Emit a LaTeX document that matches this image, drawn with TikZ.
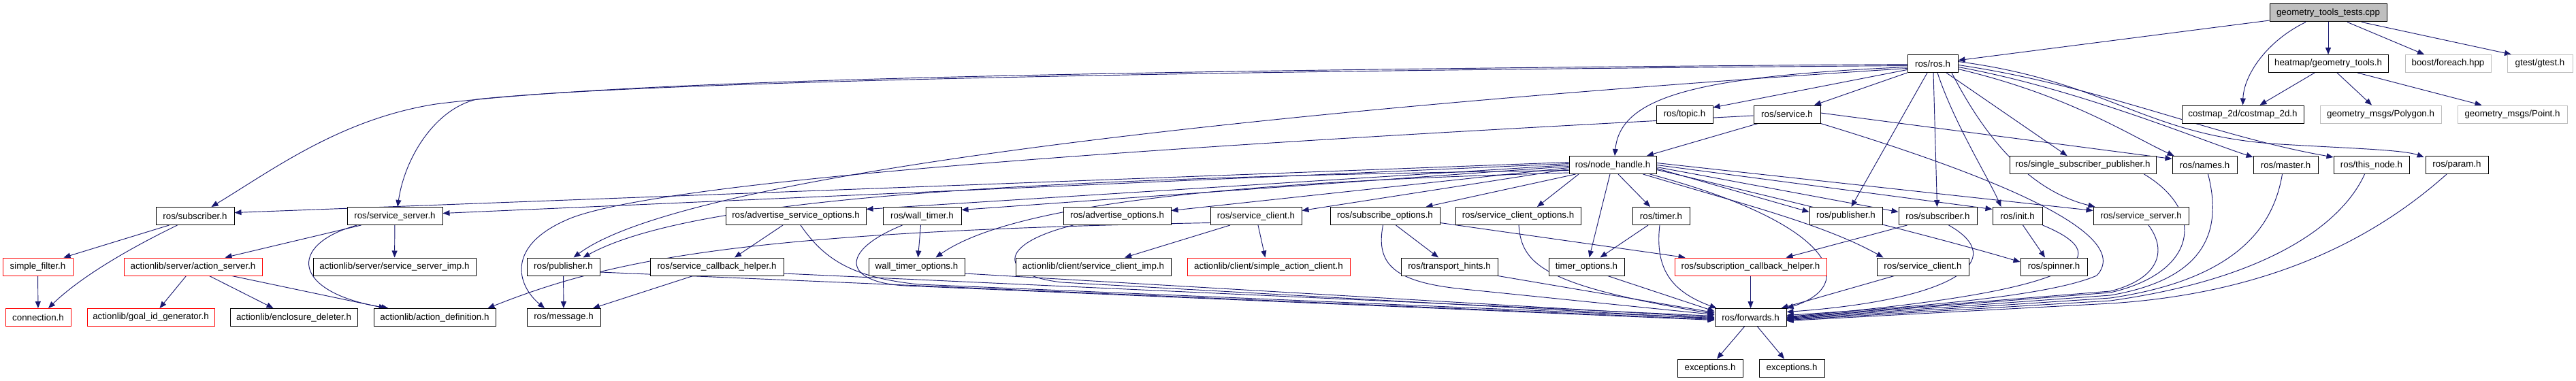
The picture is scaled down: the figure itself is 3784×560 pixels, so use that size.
\documentclass[tikz,border=0pt]{standalone}
\usepackage{fontspec}
\setmainfont{Liberation Sans}
\usetikzlibrary{arrows.meta,calc}
\definecolor{navy}{HTML}{191970}
\definecolor{lgray}{HTML}{BFBFBF}
\definecolor{fred}{HTML}{FF0000}
\pgfdeclarelayer{bg}
\pgfsetlayers{bg,main}
\tikzset{
 bx/.style={draw=black, line width=0.75pt, fill=white, inner sep=0pt, minimum height=19.5pt, font=\fontsize{10}{12}\selectfont, text=black},
 rbx/.style={bx, draw=fred},
 gbx/.style={bx, draw=lgray},
 rootbx/.style={bx, fill=lgray},
 dep/.style={draw=navy, line width=0.7pt, -{Triangle[length=7.5pt,width=6pt]}},
}
\newcommand{\dnode}[6]{\node[#6, minimum width={#3*0.75pt}] (#1) at (#2,#4) {#5};}
\begin{document}
\begin{tikzpicture}[x=0.75pt,y=-0.75pt]
\useasboundingbox (0,0) rectangle (3784,560);
% row 0
\dnode{T}{3420}{172}{19}{geometry\_tools\_tests.cpp}{rootbx}
% row 1
\dnode{ros}{2839}{74}{93.5}{ros/ros.h}{bx}
\dnode{heat}{3420}{176}{93.5}{heatmap/geometry\_tools.h}{bx}
\dnode{boost}{3596}{126}{93.5}{boost/foreach.hpp}{gbx}
\dnode{gtest}{3731}{96}{93.5}{gtest/gtest.h}{gbx}
% row 2
\dnode{topic}{2474.5}{83}{168}{ros/topic.h}{bx}
\dnode{service}{2625}{98}{168}{ros/service.h}{bx}
\dnode{costmap}{3294.5}{179}{168}{costmap\_2d/costmap\_2d.h}{bx}
\dnode{poly}{3497}{178}{168}{geometry\_msgs/Polygon.h}{gbx}
\dnode{point}{3690.5}{161}{168}{geometry\_msgs/Point.h}{gbx}
% row 3
\dnode{nh}{2369}{128}{242.5}{ros/node\_handle.h}{bx}
\dnode{ssp}{3059.5}{215}{242.5}{ros/single\_subscriber\_publisher.h}{bx}
\dnode{names}{3238.5}{95}{242.5}{ros/names.h}{bx}
\dnode{master}{3357.5}{95}{242.5}{ros/master.h}{bx}
\dnode{thisnode}{3483.5}{111}{242.5}{ros/this\_node.h}{bx}
\dnode{param}{3609}{92}{242.5}{ros/param.h}{bx}
% row 4
\dnode{subL}{286.5}{115}{317.5}{ros/subscriber.h}{bx}
\dnode{ssL}{580}{140}{317.5}{ros/service\_server.h}{bx}
\dnode{aso}{1169}{206}{317.5}{ros/advertise\_service\_options.h}{bx}
\dnode{wt}{1354.5}{115}{317.5}{ros/wall\_timer.h}{bx}
\dnode{ao}{1641}{158}{317.5}{ros/advertise\_options.h}{bx}
\dnode{scL}{1845}{134}{317.5}{ros/service\_client.h}{bx}
\dnode{so}{2034.5}{161}{317.5}{ros/subscribe\_options.h}{bx}
\dnode{sco}{2230}{184}{317.5}{ros/service\_client\_options.h}{bx}
\dnode{timer}{2440}{84}{317.5}{ros/timer.h}{bx}
\dnode{pubR}{2711.5}{107}{317.5}{ros/publisher.h}{bx}
\dnode{subR}{2846.5}{115}{317.5}{ros/subscriber.h}{bx}
\dnode{init}{2963.5}{73}{317.5}{ros/init.h}{bx}
\dnode{ssR}{3145}{140}{317.5}{ros/service\_server.h}{bx}
% row 5
\dnode{sf}{55.5}{103}{392}{simple\_filter.h}{rbx}
\dnode{as}{283.5}{203}{392}{actionlib/server/action\_server.h}{rbx}
\dnode{ssimp}{579.5}{239}{392}{actionlib/server/service\_server\_imp.h}{bx}
\dnode{pubL}{827.5}{107}{392}{ros/publisher.h}{bx}
\dnode{sch}{1053}{196}{392}{ros/service\_callback\_helper.h}{bx}
\dnode{wto}{1346.5}{141}{392}{wall\_timer\_options.h}{bx}
\dnode{scimp}{1606}{228}{392}{actionlib/client/service\_client\_imp.h}{bx}
\dnode{sac}{1863.5}{239}{392}{actionlib/client/simple\_action\_client.h}{rbx}
\dnode{th}{2129}{142}{392}{ros/transport\_hints.h}{bx}
\dnode{to}{2330.5}{111}{392}{timer\_options.h}{bx}
\dnode{subcb}{2571.5}{223}{392}{ros/subscription\_callback\_helper.h}{rbx}
\dnode{scR}{2824.5}{135}{392}{ros/service\_client.h}{bx}
\dnode{spin}{3017}{98}{392}{ros/spinner.h}{bx}
% row 6
\dnode{conn}{56}{96}{466.5}{connection.h}{rbx}
\dnode{goal}{221.5}{187}{466.5}{actionlib/goal\_id\_generator.h}{rbx}
\dnode{encl}{431.5}{187}{466.5}{actionlib/enclosure\_deleter.h}{bx}
\dnode{ad}{638.5}{179}{466.5}{actionlib/action\_definition.h}{bx}
\dnode{msg}{828}{108}{466.5}{ros/message.h}{bx}
\dnode{fwd}{2571.5}{105}{466.5}{ros/forwards.h}{bx}
% row 7
\dnode{exca}{2512}{96}{541}{exceptions.h}{bx}
\dnode{excb}{2632}{96}{541}{exceptions.h}{bx}

\begin{pgfonlayer}{bg}
% root
\draw[dep] (T) -- (ros);
\draw[dep] ($(T.south)+(-33,0)$) .. controls (3330,60) and (3296,110) .. (costmap.north);
\draw[dep] (T) -- (heat);
\draw[dep] ($(T.south)+(28,0)$) -- ($(boost.north)+(-35,0)$);
\draw[dep] ($(T.south)+(49,0)$) -- ($(gtest.north)+(-42,0)$);
% heatmap
\draw[dep] ($(heat.south)+(-20,0)$) -- ($(costmap.north)+(25,0)$);
\draw[dep] ($(heat.south)+(13,0)$) -- ($(poly.north)+(-13,0)$);
\draw[dep] ($(heat.south)+(43,0)$) -- ($(point.north)+(-45,0)$);
% ros.h
\draw[dep] ($(ros.west)+(0,1)$) .. controls (1500,104) and (900,120) .. (640,153) .. controls (500,175) and (400,250) .. ($(subL.north)+(24,0)$);
\draw[dep] ($(ros.west)+(0,3)$) .. controls (1500,106) and (900,125) .. (700,146) .. controls (640,160) and (595,230) .. ($(ssL.north)+(4,0)$);
\draw[dep] ($(ros.west)+(0,7)$) .. controls (1800,165) and (1000,260) .. ($(pubL.north)+(15,0)$);
\draw[dep] ($(ros.west)+(0,5)$) .. controls (2500,112) and (2380,140) .. ($(nh.north)+(3,0)$);
\draw[dep] ($(ros.west)+(0,9)$) -- ($(topic.east)+(0,-10)$);
\draw[dep] (ros.south west) -- ($(service.north)+(40,0)$);
\draw[dep] ($(ros.south)+(-8,0)$) -- ($(pubR.north)+(8,0)$);
\draw[dep] ($(ros.south)+(1,0)$) -- ($(subR.north)+(-1,0)$);
\draw[dep] ($(ros.south)+(7,0)$) .. controls (2870,180) and (2920,260) .. ($(init.north)+(-24,0)$);
\draw[dep] ($(ros.south)+(20,0)$) -- ($(ssp.north)+(-23,0)$);
\draw[dep] ($(ros.south)+(28,0)$) .. controls (2930,230) and (3000,285) .. ($(ssR.north west)+(3,0)$);
\draw[dep] ($(ros.east)+(0,8)$) .. controls (3040,140) and (3130,200) .. ($(names.north west)+(3,0)$);
\draw[dep] ($(ros.east)+(0,5)$) .. controls (3050,130) and (3230,205) .. ($(master.north west)+(0,2)$);
\draw[dep] ($(ros.east)+(0,2)$) .. controls (3080,125) and (3250,200) .. ($(thisnode.north west)+(0,2)$);
\draw[dep] ($(ros.east)+(0,-3)$) .. controls (3100,120) and (3150,200) .. (3350,212) .. controls (3450,218) and (3530,220) .. ($(param.north west)+(-2,2)$);
% service.h
\draw[dep] ($(service.south west)+(7,0)$) -- ($(nh.north)+(50,0)$);
\draw[dep] ($(service.east)+(0,-2)$) -- ($(names.west)+(0,-9)$);
\draw[dep] ($(service.west)+(0,2)$) .. controls (1800,210) and (1000,260) .. (840,320) .. controls (740,360) and (760,420) .. ($(msg.north)+(-28,0)$);
\draw[dep] (service.south east) .. controls (2900,250) and (3140,340) .. (3080,405) .. controls (3000,440) and (2750,455) .. ($(fwd.east)+(0,-3)$);
% node_handle.h
\draw[dep] ($(nh.west)+(0,-4)$) -- ($(subL.east)+(0,-5)$);
\draw[dep] ($(nh.west)+(0,-2)$) -- ($(ssL.east)+(0,-4)$);
\draw[dep] ($(nh.west)+(0,0)$) -- ($(aso.east)+(0,-10)$);
\draw[dep] ($(nh.west)+(0,2)$) -- ($(wt.east)+(0,-9)$);
\draw[dep] ($(nh.west)+(0,4)$) -- ($(ao.east)+(0,-8)$);
\draw[dep] ($(nh.west)+(0,6)$) -- ($(scL.east)+(0,-8)$);
\draw[dep] ($(nh.west)+(0,8)$) .. controls (1400,262) and (1000,300) .. ($(pubL.north)+(29,0)$);
\draw[dep] ($(nh.south west)+(0,-2)$) .. controls (1900,265) and (1500,290) .. ($(wto.north)+(28,0)$);
\draw[dep] ($(nh.south west)+(10,0)$) -- ($(so.north)+(60,0)$);
\draw[dep] ($(nh.south)+(-50,0)$) -- ($(sco.north)+(28,0)$);
\draw[dep] ($(nh.south)+(8,0)$) -- ($(timer.north)+(-16,0)$);
\draw[dep] ($(nh.south)+(-4,0)$) -- ($(to.north)+(4,0)$);
\draw[dep] ($(nh.east)+(0,5)$) -- ($(pubR.west)+(0,-6)$);
\draw[dep] ($(nh.east)+(0,3)$) -- ($(subR.west)+(0,-6)$);
\draw[dep] ($(nh.east)+(0,0)$) -- ($(init.west)+(0,-10)$);
\draw[dep] ($(nh.east)+(0,-3)$) -- ($(ssR.west)+(0,-8)$);
\draw[dep] ($(nh.south east)+(-20,0)$) .. controls (2560,300) and (2680,330) .. ($(scR.north west)+(10,0)$);
\draw[dep] ($(nh.east)+(0,7)$) .. controls (2650,300) and (2850,350) .. ($(spin.west)+(0,-7)$);
\draw[dep] ($(nh.south east)+(-10,0)$) .. controls (2700,330) and (2730,420) .. (fwd.north east);
% left part
\draw[dep] ($(subL.south west)+(20,0)$) -- ($(sf.north)+(38,0)$);
\draw[dep] ($(subL.south west)+(32,0)$) .. controls (170,375) and (110,415) .. ($(conn.north)+(15,0)$);
\draw[dep] (sf) -- (conn);
\draw[dep] ($(ssL.south west)+(21,0)$) -- ($(as.north)+(47,0)$);
\draw[dep] (ssL) -- (ssimp);
\draw[dep] ($(ssL.south west)+(15,0)$) .. controls (420,360) and (430,430) .. ($(ad.north west)+(22,0)$);
\draw[dep] ($(as.south)+(-10,0)$) -- ($(goal.north)+(13,0)$);
\draw[dep] ($(as.south)+(24,0)$) -- ($(encl.north)+(-30,0)$);
\draw[dep] ($(as.south)+(57,0)$) -- ($(ad.north west)+(18,0)$);
% middle
\draw[dep] ($(aso.south)+(-19,0)$) -- ($(sch.north)+(26,0)$);
\draw[dep] ($(aso.south)+(7,0)$) .. controls (1210,380) and (1250,408) .. (1350,418) -- ($(fwd.west)+(0,1)$);
\draw[dep] ($(sch.south)+(-35,0)$) -- ($(msg.north)+(43,0)$);
\draw[dep] ($(sch.east)+(0,10)$) -- ($(fwd.west)+(0,-2)$);
\draw[dep] (pubL) -- (msg);
\draw[dep] ($(pubL.east)+(0,8)$) -- ($(fwd.west)+(0,3)$);
\draw[dep] ($(wt.south)+(-2,0)$) -- ($(wto.north)+(2,0)$);
\draw[dep] ($(wt.south west)+(29,0)$) .. controls (1230,370) and (1240,415) .. (1330,420) -- ($(fwd.west)+(0,4)$);
\draw[dep] ($(ao.south west)+(15,0)$) .. controls (1460,360) and (1470,405) .. (1560,415) -- ($(fwd.west)+(0,2)$);
\draw[dep] ($(wto.east)+(0,10)$) -- ($(fwd.west)+(0,0)$);
\draw[dep] ($(scL.south)+(-38,0)$) -- ($(scimp.north)+(46,0)$);
\draw[dep] ($(scL.south)+(3,0)$) -- ($(sac.north)+(-5,0)$);
\draw[dep] ($(scL.west)+(0,10)$) .. controls (1100,340) and (900,380) .. ($(ad.north east)+(-12,0)$);
\draw[dep] ($(so.south)+(16,0)$) -- ($(th.north)+(-16,0)$);
\draw[dep] ($(so.east)+(0,10)$) -- ($(subcb.north west)+(16,0)$);
\draw[dep] ($(so.south)+(-3,0)$) .. controls (2020,390) and (2050,415) .. (2150,425) -- ($(fwd.west)+(0,-4)$);
\draw[dep] ($(sco.south)+(1,0)$) .. controls (2235,390) and (2270,420) .. ($(fwd.west)+(0,-5)$);
\draw[dep] ($(timer.south)+(-19,0)$) -- ($(to.north)+(20,0)$);
\draw[dep] ($(timer.south)+(-2,0)$) .. controls (2430,400) and (2460,430) .. ($(fwd.north west)+(3,0)$);
\draw[dep] ($(to.south east)+(-25,0)$) -- ($(fwd.west)+(0,-9)$);
\draw[dep] (th.south east) -- ($(fwd.west)+(0,-7)$);
% right part
\draw[dep] (subcb) -- (fwd);
\draw[dep] ($(subR.south west)+(13,0)$) -- ($(subcb.north)+(52,0)$);
\draw[dep] ($(subR.south)+(16,0)$) .. controls (2950,380) and (2880,440) .. ($(fwd.east)+(0,-8)$);
\draw[dep] ($(scR.south west)+(26,0)$) -- ($(fwd.north east)+(-8,0)$);
\draw[dep] ($(init.south)+(8,0)$) -- ($(spin.north)+(-13,0)$);
\draw[dep] (init.south east) .. controls (3120,380) and (3050,430) .. ($(fwd.east)+(0,-1)$);
\draw[dep] ($(ssR.south)+(11,0)$) .. controls (3185,370) and (3170,410) .. (3100,428) -- ($(fwd.east)+(0,0)$);
\draw[dep] ($(ssp.south)+(90,0)$) .. controls (3240,310) and (3230,400) .. (3100,430) -- ($(fwd.east)+(0,1)$);
\draw[dep] ($(names.south)+(5,0)$) .. controls (3265,340) and (3240,410) .. (3100,434) -- ($(fwd.east)+(0,2)$);
\draw[dep] ($(master.south)+(-5,0)$) .. controls (3340,330) and (3290,410) .. (3100,438) -- ($(fwd.east)+(0,3)$);
\draw[dep] ($(thisnode.south)+(-10,0)$) .. controls (3440,330) and (3330,410) .. (3100,442) -- ($(fwd.east)+(0,4)$);
\draw[dep] ($(param.south)+(-15,0)$) .. controls (3500,340) and (3350,430) .. (3100,446) -- ($(fwd.east)+(0,5)$);
\draw[dep] ($(fwd.south)+(-9,0)$) -- ($(exca.north)+(10,0)$);
\draw[dep] ($(fwd.south)+(10,0)$) -- ($(excb.north)+(-11,0)$);
\end{pgfonlayer}
\end{tikzpicture}
\end{document}
